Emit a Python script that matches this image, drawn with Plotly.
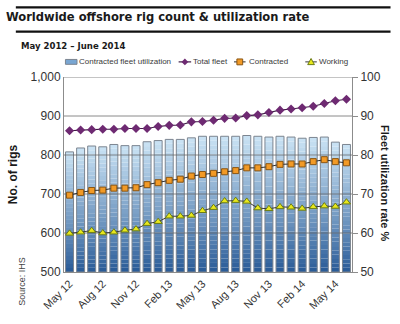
import plotly.graph_objects as go

# Monthly series, May 2012 - June 2014
months = ["May 12", "Jun 12", "Jul 12", "Aug 12", "Sep 12", "Oct 12", "Nov 12", "Dec 12",
          "Jan 13", "Feb 13", "Mar 13", "Apr 13", "May 13", "Jun 13", "Jul 13", "Aug 13",
          "Sep 13", "Oct 13", "Nov 13", "Dec 13", "Jan 14", "Feb 14", "Mar 14", "Apr 14",
          "May 14", "Jun 14"]
utilization = [80.8, 81.8, 82.3, 82.1, 82.7, 82.4, 82.4, 83.4, 83.7, 84.0, 84.0, 84.4, 84.8,
               84.8, 84.8, 84.8, 85.0, 84.8, 84.6, 84.8, 84.6, 84.3, 84.5, 84.6, 83.3, 82.7]
total_fleet = [862, 864, 865, 866, 866, 868, 868, 868, 873, 876, 877, 885, 886,
               889, 894, 895, 901, 903, 909, 915, 918, 921, 925, 932, 939, 943]
contracted = [697, 704, 709, 710, 715, 715, 716, 724, 729, 735, 738, 746, 750,
              753, 757, 760, 767, 767, 770, 776, 777, 777, 783, 788, 783, 780]
working = [599, 602, 606, 600, 602, 607, 610, 624, 629, 643, 643, 645, 657,
           665, 682, 683, 681, 664, 662, 667, 666, 663, 667, 669, 668, 679]

tick_every = 3
pct_ticks = [50, 60, 70, 80, 90, 100]
rig_ticks = [500, 600, 700, 800, 900, 1000]

W, H = 400, 324
L, R, T, B = 53, 48, 76.5, 47.5
PW, PH = W - L - R, H - T - B

# series styling
C_BAR_DARK, C_BAR_LIGHT, C_BAR_EDGE = "#2a5c98", "#c8e1f3", "#7c8590"
C_TOTAL, C_TOTAL_LINE = "#6e2a72", "#3f1d45"
C_CONTR, C_CONTR_EDGE, C_CONTR_LINE = "#f29a26", "#8a5512", "#2e2e2e"
C_WORK, C_WORK_EDGE, C_WORK_LINE = "#e8e81c", "#6c7c14", "#3a3a3a"


def px(x):
    return (x - L) / PW


def py(y):
    return (H - B - y) / PH


def ppath(pts):
    return "M " + " L ".join("%.5f,%.5f" % (px(x), py(y)) for x, y in pts) + " Z"


def mix(c1, c2, t):
    a = [int(c1[i:i + 2], 16) for i in (1, 3, 5)]
    b = [int(c2[i:i + 2], 16) for i in (1, 3, 5)]
    return "rgb(%d,%d,%d)" % tuple(round(a[j] + (b[j] - a[j]) * t) for j in range(3))


idx = list(range(len(months)))
base_pct = pct_ticks[0]
bar_w = 0.72
K = 30

fig = go.Figure()

# gradient-filled utilization bars, built as stacked slices
for k in range(K):
    t = k / (K - 1)
    fig.add_trace(go.Bar(
        x=idx,
        base=[base_pct + (v - base_pct) * k / K for v in utilization],
        y=[(v - base_pct) / K for v in utilization],
        width=bar_w,
        marker=dict(color=mix(C_BAR_DARK, C_BAR_LIGHT, t ** 0.9), line=dict(width=0)),
        name="Contracted fleet utilization",
        hoverinfo="skip", xaxis="x", yaxis="y",
    ))

# bar outlines
fig.add_trace(go.Bar(
    x=idx, base=[base_pct] * len(idx), y=[v - base_pct for v in utilization],
    width=bar_w,
    marker=dict(color="rgba(0,0,0,0)", line=dict(color=C_BAR_EDGE, width=1)),
    hoverinfo="skip", xaxis="x", yaxis="y",
))

# grid lines drawn across the bars
gx, gy = [], []
for v in pct_ticks[1:]:
    gx += [-0.5, len(idx) - 0.5, None]
    gy += [v, v, None]
fig.add_trace(go.Scatter(
    x=gx, y=gy, mode="lines", line=dict(color="rgba(100,100,100,0.75)", width=1),
    hoverinfo="skip", xaxis="x", yaxis="y",
))

fig.add_trace(go.Scatter(
    x=idx, y=total_fleet, mode="lines+markers", name="Total fleet",
    line=dict(color=C_TOTAL_LINE, width=1.1),
    marker=dict(symbol="diamond", size=7, color=C_TOTAL),
    xaxis="x", yaxis="y2",
))
fig.add_trace(go.Scatter(
    x=idx, y=contracted, mode="lines+markers", name="Contracted",
    line=dict(color=C_CONTR_LINE, width=1),
    marker=dict(symbol="square", size=6, color=C_CONTR, line=dict(color=C_CONTR_EDGE, width=1)),
    xaxis="x", yaxis="y2",
))
fig.add_trace(go.Scatter(
    x=idx, y=working, mode="lines+markers", name="Working",
    line=dict(color=C_WORK_LINE, width=1),
    marker=dict(symbol="triangle-up", size=7, color=C_WORK, line=dict(color=C_WORK_EDGE, width=1)),
    xaxis="x", yaxis="y2",
))

font = "Liberation Sans, Arial, sans-serif"
cond = "DejaVu Sans Condensed, Arial Narrow, sans-serif"

# compact one-row key above the plot
LY = 61
legend_shapes = [
    dict(type="rect", x0=px(54.5), x1=px(66.5), y0=py(58.5), y1=py(63.5),
         fillcolor="#79a6d2", line=dict(color=C_BAR_EDGE, width=1)),
    dict(type="line", x0=px(172), x1=px(185), y0=py(LY), y1=py(LY),
         line=dict(color=C_TOTAL_LINE, width=1.2)),
    dict(type="path", path=ppath([(178.5, LY - 3.5), (182, LY), (178.5, LY + 3.5), (175, LY)]),
         fillcolor=C_TOTAL, line=dict(width=0)),
    dict(type="line", x0=px(229.5), x1=px(241.5), y0=py(LY), y1=py(LY),
         line=dict(color=C_CONTR_LINE, width=1)),
    dict(type="path", path=ppath([(232.5, LY - 3), (238.5, LY - 3), (238.5, LY + 3), (232.5, LY + 3)]),
         fillcolor=C_CONTR, line=dict(color=C_CONTR_EDGE, width=1)),
    dict(type="line", x0=px(303.5), x1=px(315.5), y0=py(LY), y1=py(LY),
         line=dict(color=C_WORK_LINE, width=1)),
    dict(type="path", path=ppath([(309.5, LY - 3.5), (313, LY + 2.8), (306, LY + 2.8)]),
         fillcolor=C_WORK, line=dict(color=C_WORK_EDGE, width=1)),
]
for s in legend_shapes:
    s.update(xref="paper", yref="paper")

legend_text = [("Contracted fleet utilization", 67), ("Total fleet", 185),
               ("Contracted", 243), ("Working", 316)]

annotations = [
    dict(text="<b>May 2012 – June 2014</b>", x=px(6), y=py(44), xanchor="left",
         font=dict(family=cond, size=9.5, color="#1a1a1a")),
    dict(text="<b>Fleet utilization rate %</b>", x=px(386), y=py(185), textangle=90,
         font=dict(size=11, color="#1a1a1a")),
    dict(text="Source: IHS", x=px(10), y=py(286), textangle=-90,
         font=dict(size=9, color="#444444")),
]
for name, x0 in legend_text:
    annotations.append(dict(text=name, x=px(x0), y=py(LY), xanchor="left",
                            font=dict(size=8, color="#3a3a3a")))
for a in annotations:
    a.setdefault("xanchor", "center")
    a.update(xref="paper", yref="paper", yanchor="middle", showarrow=False)

fig.update_layout(
    width=W, height=H,
    margin=dict(l=L, r=R, t=T, b=B),
    paper_bgcolor="white", plot_bgcolor="white",
    barmode="overlay", showlegend=False,
    font=dict(family=font, size=12, color="#333333"),
    title=dict(text="<b>Worldwide offshore rig count & utilization rate</b>",
               x=6 / W, xanchor="left", y=1 - 17 / H, yanchor="middle",
               font=dict(family=cond, size=12.8, color="#1a1a1a")),
    xaxis=dict(range=[-0.5, len(idx) - 0.5],
               tickvals=idx[::tick_every], ticktext=months[::tick_every],
               tickangle=-45, showgrid=False, showline=True, linecolor="#8c8c8c",
               ticks="", tickfont=dict(size=11, color="#333333"), zeroline=False),
    yaxis=dict(range=[pct_ticks[0], pct_ticks[-1]], tickvals=pct_ticks, side="right",
               showgrid=False, showline=True, linecolor="#8c8c8c",
               ticks="outside", ticklen=5, tickcolor="#8c8c8c",
               tickfont=dict(size=12, color="#333333"), zeroline=False),
    yaxis2=dict(range=[rig_ticks[0], rig_ticks[-1]], tickvals=rig_ticks, overlaying="y",
                side="left", tickformat=",", showgrid=False, showline=True,
                linecolor="#8c8c8c", ticks="", zeroline=False,
                tickfont=dict(size=12, color="#333333"),
                title=dict(text="<b>No. of rigs</b>", standoff=10,
                           font=dict(size=12, color="#1a1a1a"))),
    shapes=[
        dict(type="line", xref="paper", yref="paper", x0=px(3), x1=px(392),
             y0=py(5), y1=py(5), line=dict(color="#111111", width=2.2)),
        dict(type="line", xref="paper", yref="paper", x0=px(3), x1=px(392),
             y0=py(30), y1=py(30), line=dict(color="#111111", width=2.2)),
    ] + legend_shapes,
    annotations=annotations,
)

fig.write_html("out.html")
